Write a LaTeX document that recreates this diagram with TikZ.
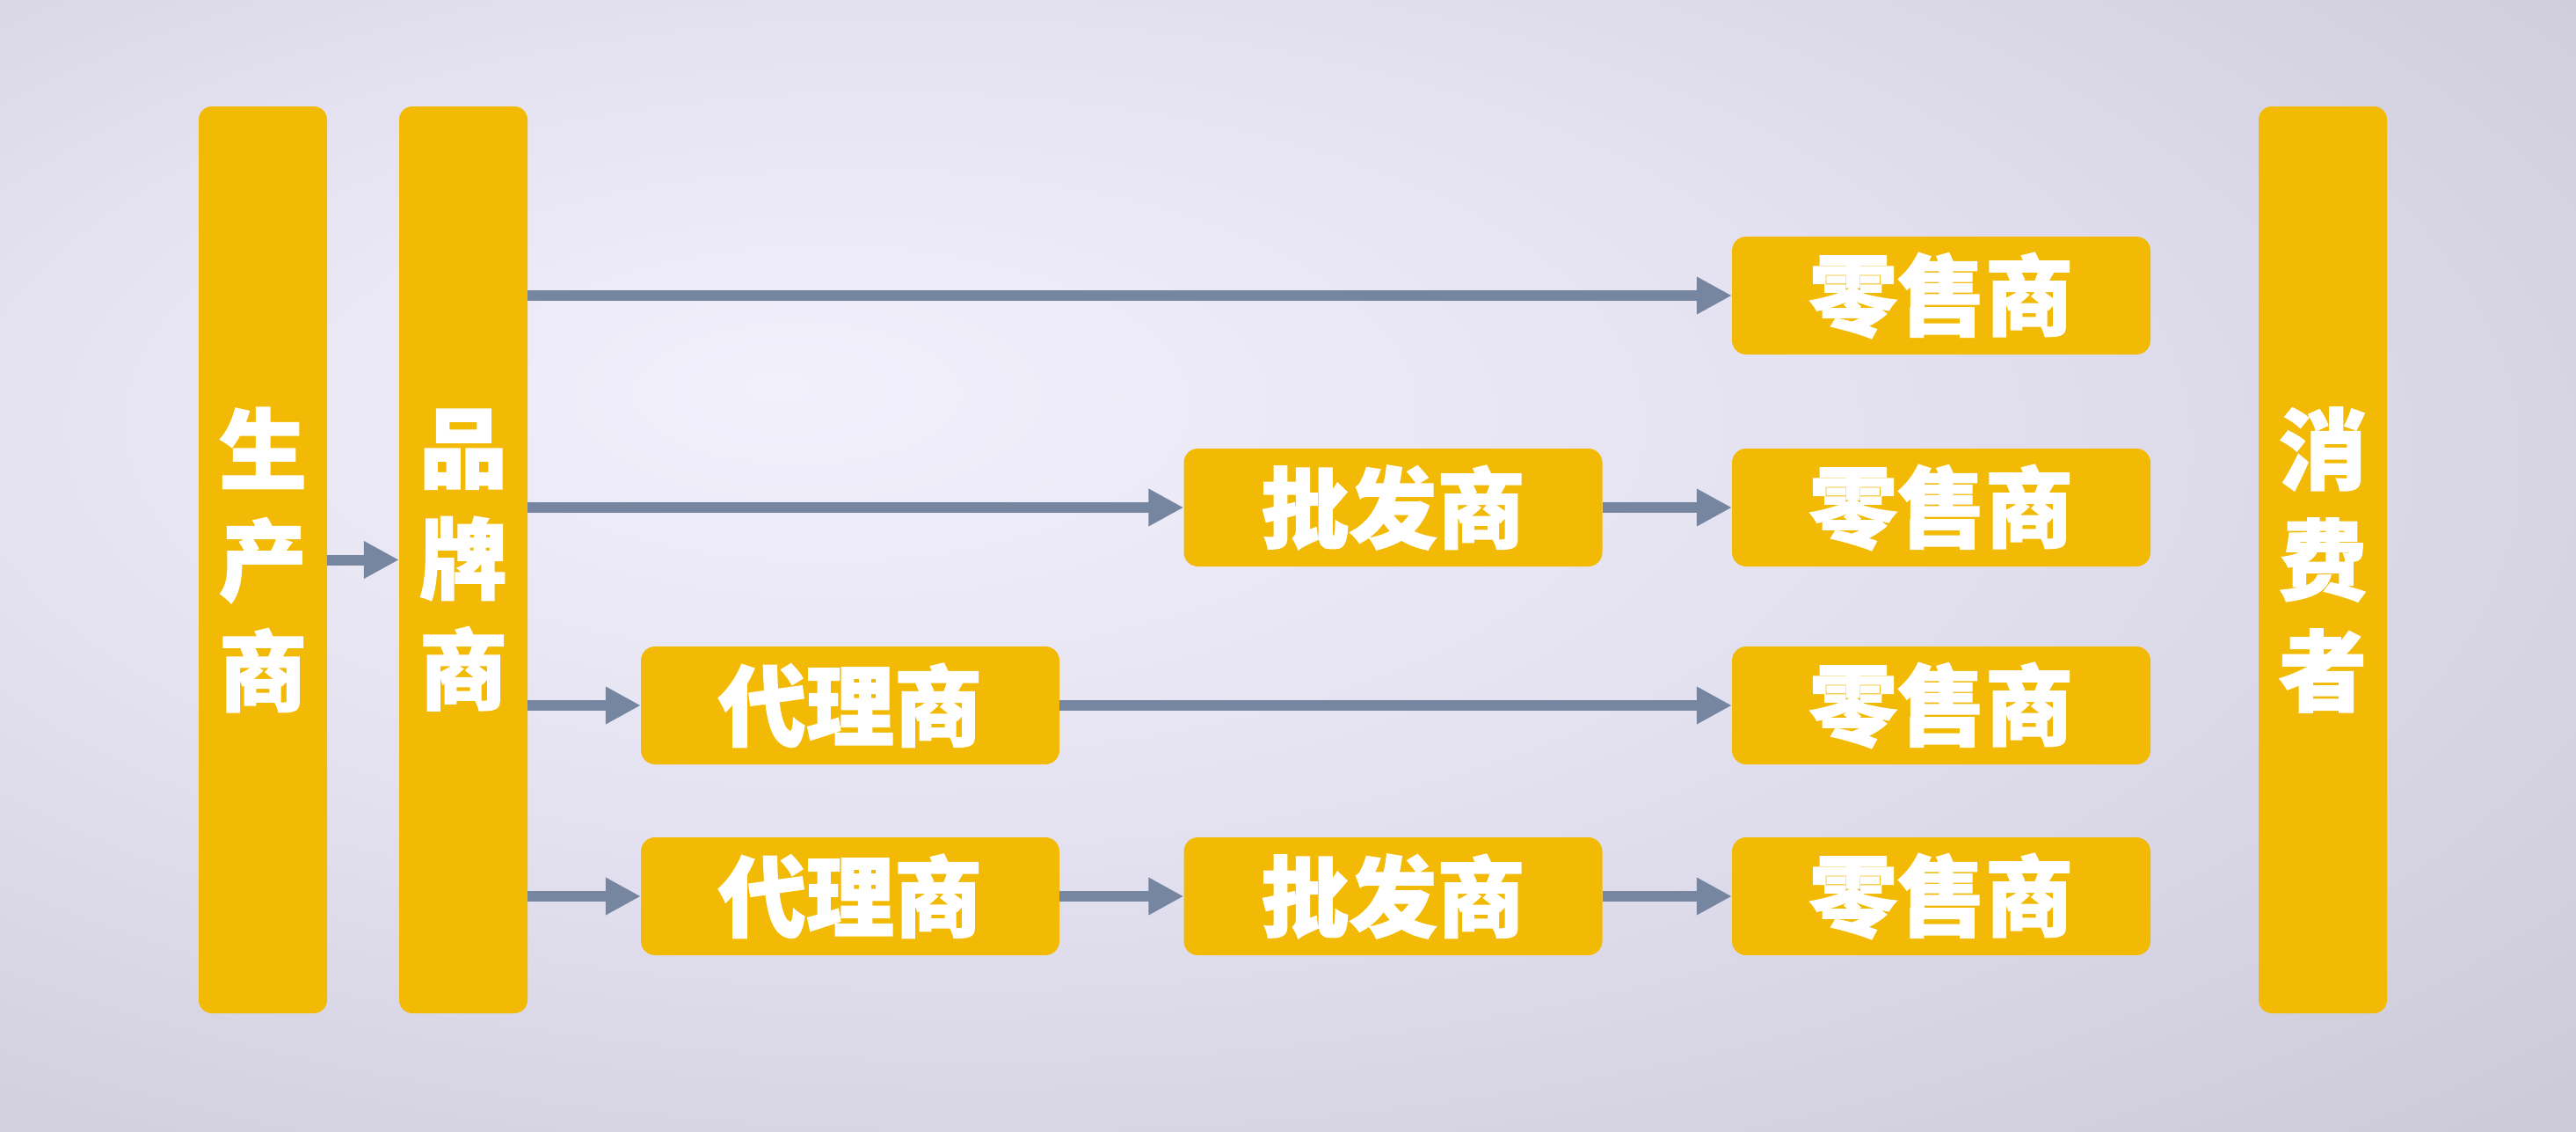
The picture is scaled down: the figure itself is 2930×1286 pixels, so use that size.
\documentclass[tikz,border=0pt]{standalone}
\usepackage{fontspec}
\newfontfamily\cjk{Noto Sans CJK SC}[BoldFeatures={FakeBold=1.6}]
\usetikzlibrary{arrows.meta,calc}
\definecolor{gold}{RGB}{242,186,5}
\definecolor{arrowc}{RGB}{118,134,161}
\definecolor{bgA}{RGB}{242,240,251}
\definecolor{bgB}{RGB}{228,226,240}
\definecolor{bgC}{RGB}{200,198,213}
\definecolor{bgD}{RGB}{174,172,189}
\pgfdeclareradialshading{bgshade}{\pgfpoint{-10bp}{8bp}}{color(0bp)=(bgA); color(18bp)=(bgB); color(44bp)=(bgC); color(68bp)=(bgD)}
\tikzset{
  bar/.style={fill=gold, rounded corners=15pt, minimum width=146pt, minimum height=1031pt, inner sep=0pt, text=white, align=center, font=\cjk\bfseries\fontsize{100}{126}\selectfont},
  box/.style={fill=gold, rounded corners=16pt, minimum width=476pt, minimum height=134pt, inner sep=0pt, text=white, font=\cjk\bfseries\fontsize{100}{120}\selectfont},
  flow/.style={draw=arrowc, line width=12pt, -{Triangle[length=40pt 0 0, width=40pt 0 0]}}
}
\begin{document}
\begin{tikzpicture}[x=1pt,y=-1pt]
\shade[shading=bgshade] (0,0) rectangle (2930,1286);
\useasboundingbox (0,0) rectangle (2930,1286);
% bars
\node[bar] (sc) at (299,636.5) {生\\产\\商};
\node[bar] (pp) at (527,636.5) {品\\牌\\商};
\node[bar] (xf) at (2642,636.5) {消\\费\\者};
% row boxes
\node[box] (ls1) at (2208,336) {零售商};
\node[box] (pf2) at (1584.5,577) {批发商};
\node[box] (ls2) at (2208,577) {零售商};
\node[box] (dl3) at (967,802) {代理商};
\node[box] (ls3) at (2208,802) {零售商};
\node[box] (dl4) at (967,1019) {代理商};
\node[box] (pf4) at (1584.5,1019) {批发商};
\node[box] (ls4) at (2208,1019) {零售商};
% connectors
\draw[flow] (sc.east) -- (pp.west);
\draw[flow] (pp.east |- ls1.west) -- (ls1.west);
\draw[flow] (pp.east |- pf2.west) -- (pf2.west);
\draw[flow] (pf2.east) -- (ls2.west);
\draw[flow] (pp.east |- dl3.west) -- (dl3.west);
\draw[flow] (dl3.east) -- (ls3.west);
\draw[flow] (pp.east |- dl4.west) -- (dl4.west);
\draw[flow] (dl4.east) -- (pf4.west);
\draw[flow] (pf4.east) -- (ls4.west);
\end{tikzpicture}
\end{document}
